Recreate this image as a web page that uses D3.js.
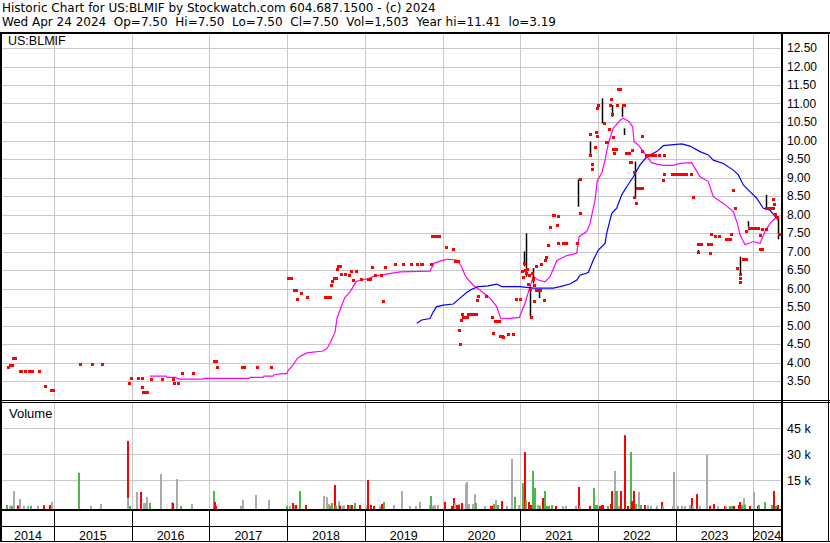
<!DOCTYPE html>
<html>
<head>
<meta charset="utf-8">
<script src="https://cdn.jsdelivr.net/npm/d3@7/dist/d3.min.js"></script>
<style>
  html, body { margin: 0; padding: 0; background: #fff; }
  svg { display: block; font-family: "Liberation Sans", Arial, sans-serif; }
  text { white-space: pre; }
</style>
</head>
<body>
<svg id="chart" width="830" height="543"></svg>
<script>
// ---------------- DATA (dates as decimal years) ----------------
const headerLine1 = "Historic Chart for US:BLMIF by Stockwatch.com 604.687.1500 - (c) 2024";
const headerLine2 = "Wed Apr 24 2024  Op=7.50  Hi=7.50  Lo=7.50  Cl=7.50  Vol=1,503  Year hi=11.41  lo=3.19";
const symbolLabel = "US:BLMIF";
const volumeLabel = "Volume";

const years = [2014, 2015, 2016, 2017, 2018, 2019, 2020, 2021, 2022, 2023, 2024];
const priceTicks = [3.5, 4, 4.5, 5, 5.5, 6, 6.5, 7, 7.5, 8, 8.5, 9, 9.5, 10, 10.5, 11, 11.5, 12, 12.5];
const volumeTicks = [15000, 30000, 45000];
const volumeTickLabels = ["15 k", "30 k", "45 k"];

// daily closes
const priceDates = [
  2014.408, 2014.440, 2014.455, 2014.472, 2014.498, 2014.562, 2014.575, 2014.623, 2014.678, 2014.713,
  2014.807, 2014.884, 2014.961, 2014.987, 2015.335, 2015.489, 2015.618, 2015.965, 2015.991, 2016.081,
  2016.132, 2016.132, 2016.145, 2016.171, 2016.197, 2016.248, 2016.390, 2016.531, 2016.544, 2016.595,
  2016.647, 2016.788, 2017.059, 2017.085, 2017.097, 2017.419, 2017.445, 2017.612, 2017.792,
  2018.011, 2018.049, 2018.088, 2018.101, 2018.114, 2018.127, 2018.178, 2018.255, 2018.487, 2018.519,
  2018.551, 2018.564, 2018.577, 2018.603, 2018.628, 2018.641, 2018.654, 2018.676, 2018.693, 2018.738,
  2018.750, 2018.796, 2018.821, 2018.847, 2018.886, 2018.950, 2019.040, 2019.053, 2019.066, 2019.092,
  2019.130, 2019.207, 2019.233, 2019.259, 2019.388, 2019.491, 2019.593, 2019.671, 2019.722, 2019.735,
  2019.851, 2019.864, 2019.877, 2019.889, 2019.915, 2019.954, 2020.044, 2020.134, 2020.160, 2020.186,
  2020.198, 2020.211, 2020.224, 2020.237, 2020.250, 2020.263, 2020.276, 2020.289, 2020.314, 2020.327,
  2020.353, 2020.378, 2020.404, 2020.430, 2020.443, 2020.455, 2020.558, 2020.636, 2020.649, 2020.674,
  2020.700, 2020.726, 2020.739, 2020.764, 2020.777, 2020.842, 2020.906, 2020.944, 2020.996, 2021.021,
  2021.034, 2021.051, 2021.060, 2021.077, 2021.086, 2021.099, 2021.112, 2021.125, 2021.134, 2021.150,
  2021.167, 2021.176, 2021.180, 2021.202, 2021.202, 2021.228, 2021.253, 2021.262, 2021.305, 2021.318,
  2021.335, 2021.352, 2021.382, 2021.425, 2021.437, 2021.472, 2021.481, 2021.485, 2021.549, 2021.592,
  2021.726, 2021.764, 2021.772, 2021.901, 2021.901, 2021.922, 2021.922, 2021.957, 2021.974, 2021.983,
  2021.987, 2022.000, 2022.073, 2022.103, 2022.116, 2022.141, 2022.154, 2022.163, 2022.183, 2022.197,
  2022.193, 2022.202, 2022.231, 2022.244, 2022.257, 2022.277, 2022.317, 2022.330, 2022.356, 2022.394,
  2022.411, 2022.424, 2022.441, 2022.459, 2022.467, 2022.488, 2022.497, 2022.530, 2022.562, 2022.566,
  2022.570, 2022.613, 2022.640, 2022.669, 2022.700, 2022.733, 2022.780, 2022.832, 2022.849, 2022.845,
  2022.948, 2022.975, 2023.003, 2023.030, 2023.055, 2023.097, 2023.128, 2023.200, 2023.226, 2023.282,
  2023.282, 2023.305, 2023.325, 2023.411, 2023.437, 2023.437, 2023.453, 2023.453, 2023.501, 2023.553,
  2023.650, 2023.672, 2023.698, 2023.711, 2023.737, 2023.762, 2023.792, 2023.830, 2023.830, 2023.830,
  2023.869, 2023.900, 2023.908, 2023.942, 2023.968, 2023.994, 2024.020, 2024.062, 2024.088, 2024.084,
  2024.115, 2024.114, 2024.157, 2024.165, 2024.191, 2024.219, 2024.247, 2024.247, 2024.268, 2024.277,
  2024.299, 2024.325
];
const priceClose = [
  3.89, 3.94, 3.94, 4.13, 4.13, 3.78, 3.78, 3.78, 3.78, 3.78,
  3.78, 3.37, 3.26, 3.26, 3.97, 3.97, 3.97, 3.45, 3.59, 3.59,
  3.59, 3.35, 3.19, 3.19, 3.19, 3.56, 3.56, 3.56, 3.45, 3.45,
  3.72, 3.72, 4.05, 4.05, 3.89, 3.89, 3.89, 3.89, 3.89,
  6.28, 6.28, 5.97, 5.97, 5.97, 5.72, 5.89, 5.78, 5.78, 5.78,
  5.78, 6.10, 6.21, 6.28, 6.28, 6.53, 6.62, 6.62, 6.39, 6.39,
  6.39, 6.37, 6.47, 6.24, 6.46, 6.26, 6.26, 6.26, 6.26, 6.58,
  6.36, 6.36, 5.67, 6.58, 6.66, 6.66, 6.66, 6.66, 6.66, 6.66,
  6.66, 7.42, 7.42, 7.42, 7.42, 7.42, 7.12, 7.07, 6.75, 6.75,
  6.75, 4.88, 4.50, 5.15, 5.32, 5.24, 5.24, 5.24, 5.24, 5.32,
  5.32, 5.32, 5.32, 5.32, 5.69, 5.80, 5.80, 5.24, 4.80, 5.13,
  5.13, 5.13, 4.72, 4.72, 4.69, 4.78, 4.78, 5.72, 5.72, 6.48,
  6.31, 6.68, 6.50, 6.41, 6.54, 6.13, 6.37, 6.00, 5.24, 6.43,
  6.26, 6.09, 5.67, 6.62, 5.96, 5.96, 5.96, 6.65, 5.69, 6.77,
  6.85, 7.18, 7.67, 7.99, 7.99, 7.72, 7.96, 7.23, 7.23, 7.23,
  7.23, 8.95, 8.04, 9.61, 10.18, 9.36, 9.24, 9.83, 10.23, 10.13,
  10.89, 10.96, 10.48, 9.97, 9.97, 10.31, 10.96, 11.12, 10.72, 10.10,
  9.77, 9.65, 9.77, 10.96, 11.39, 11.39, 10.96, 10.96, 9.67, 9.67,
  9.43, 9.43, 9.74, 9.16, 8.48, 8.32, 8.72, 8.72, 8.72, 10.13,
  9.72, 9.62, 9.62, 9.62, 9.62, 9.62, 9.62, 8.93, 9.09, 9.61,
  9.09, 9.09, 9.09, 9.09, 9.09, 9.09, 9.09, 9.09, 8.48, 6.99,
  7.20, 7.20, 7.20, 7.20, 7.20, 6.96, 7.47, 7.20, 7.43, 7.43,
  7.35, 7.35, 7.35, 7.47, 8.67, 8.18, 6.56, 6.40, 6.29, 6.18,
  6.81, 6.81, 7.56, 7.64, 7.64, 7.64, 7.64, 7.64, 7.45, 7.08,
  7.08, 7.62, 7.62, 8.17, 8.17, 8.17, 8.17, 8.41, 8.28, 8.01,
  7.94, 7.47
];

// intraday high-low ranges
const rangeDates = [2021.051, 2021.077, 2021.125, 2021.167, 2021.244, 2021.746, 2021.900, 2022.055,
  2022.176, 2022.304, 2022.338, 2022.476, 2023.282, 2023.830, 2023.933, 2024.157, 2024.311];
const rangeHigh = [7.00, 7.49, 6.05, 6.55, 5.96, 8.95, 9.97, 11.14, 10.96, 10.91, 10.33, 9.43, 7.04, 6.86, 7.82, 8.53, 7.94];
const rangeLow  = [6.60, 6.32, 5.24, 6.14, 5.74, 8.21, 9.61, 10.46, 10.64, 10.64, 10.15, 8.44, 6.95, 6.41, 7.67, 8.17, 7.33];

// short moving average (magenta)
const maShortDates = [
  2016.235, 2016.441, 2016.454, 2016.570, 2016.583, 2016.621, 2016.917, 2016.930, 2017.509, 2017.522,
  2017.689, 2017.702, 2017.818, 2017.831, 2017.934, 2017.998, 2018.011, 2018.075, 2018.127, 2018.178,
  2018.255, 2018.461, 2018.513, 2018.551, 2018.616, 2018.641, 2018.693, 2018.744, 2018.809, 2018.886,
  2018.937, 2019.040, 2019.104, 2019.195, 2019.452, 2019.838, 2019.889, 2019.967, 2020.053, 2020.182,
  2020.246, 2020.288, 2020.331, 2020.395, 2020.481, 2020.610, 2020.696, 2020.747, 2020.867, 2020.987,
  2021.060, 2021.125, 2021.167, 2021.231, 2021.318, 2021.382, 2021.468, 2021.597, 2021.726, 2021.756,
  2021.854, 2021.897, 2021.961, 2021.991, 2022.047, 2022.090, 2022.132, 2022.196, 2022.283, 2022.325,
  2022.402, 2022.446, 2022.463, 2022.518, 2022.582, 2022.690, 2022.755, 2022.840, 2022.968, 2023.055,
  2023.205, 2023.312, 2023.419, 2023.483, 2023.612, 2023.740, 2023.792, 2023.827, 2023.891, 2023.998,
  2024.084, 2024.148, 2024.212, 2024.299
];
const maShortValues = [
  3.63, 3.63, 3.60, 3.60, 3.57, 3.55, 3.55, 3.57, 3.57, 3.60,
  3.60, 3.63, 3.63, 3.67, 3.70, 3.70, 3.78, 3.93, 4.10, 4.18,
  4.26, 4.31, 4.38, 4.52, 4.82, 5.19, 5.50, 5.76, 5.91, 6.18,
  6.23, 6.26, 6.32, 6.36, 6.45, 6.47, 6.68, 6.74, 6.79, 6.77,
  6.59, 6.36, 6.23, 6.09, 5.96, 5.74, 5.51, 5.20, 5.19, 5.22,
  5.60, 6.05, 6.32, 6.23, 6.18, 6.32, 6.75, 6.89, 6.95, 7.40,
  7.54, 7.76, 8.39, 8.93, 9.11, 9.47, 9.92, 10.33, 10.55, 10.60,
  10.51, 10.37, 9.97, 9.88, 9.70, 9.40, 9.36, 9.33, 9.33, 9.38,
  9.40, 9.02, 8.89, 8.48, 8.30, 8.08, 7.76, 7.45, 7.18, 7.27,
  7.22, 7.54, 7.76, 7.94
];

// long moving average (blue)
const maLongDates = [
  2019.667, 2019.731, 2019.838, 2019.880, 2019.924, 2020.009, 2020.138, 2020.224, 2020.310, 2020.374,
  2020.459, 2020.588, 2020.696, 2020.760, 2020.996, 2021.167, 2021.425, 2021.511, 2021.639, 2021.726,
  2021.768, 2021.875, 2021.939, 2022.003, 2022.090, 2022.111, 2022.176, 2022.240, 2022.304, 2022.369,
  2022.454, 2022.540, 2022.626, 2022.755, 2022.840, 2023.076, 2023.183, 2023.312, 2023.419, 2023.483,
  2023.612, 2023.740, 2023.805, 2023.869, 2023.955, 2024.041, 2024.126, 2024.212, 2024.319
];
const maLongValues = [
  5.06, 5.15, 5.19, 5.37, 5.51, 5.55, 5.58, 5.74, 5.89, 5.98,
  6.05, 6.07, 6.12, 6.05, 6.05, 6.01, 6.01, 6.05, 6.12, 6.23,
  6.36, 6.43, 6.77, 7.04, 7.22, 7.49, 8.03, 8.17, 8.53, 8.75,
  9.02, 9.34, 9.56, 9.70, 9.86, 9.91, 9.85, 9.70, 9.61, 9.47,
  9.38, 9.20, 9.07, 8.80, 8.62, 8.44, 8.17, 8.12, 7.85
];

// volume bars (g = up day, r = down day, k = unchanged)
const volDates = [
  2014.391, 2014.438, 2014.456, 2014.481, 2014.541, 2014.559, 2014.610, 2014.662, 2014.700, 2014.790,
  2014.867, 2014.952, 2014.970, 2015.318, 2015.472, 2015.601, 2015.948, 2015.948, 2015.974, 2016.064,
  2016.116, 2016.154, 2016.171, 2016.193, 2016.231, 2016.373, 2016.514, 2016.527, 2016.579, 2016.630,
  2016.772, 2017.055, 2017.072, 2017.084, 2017.402, 2017.428, 2017.595, 2017.770,
  2017.994, 2018.037, 2018.075, 2018.097, 2018.114, 2018.165, 2018.242, 2018.474, 2018.513, 2018.538,
  2018.551, 2018.577, 2018.616, 2018.628, 2018.667, 2018.680, 2018.718, 2018.731, 2018.783, 2018.809,
  2018.834, 2018.873, 2018.937, 2019.023, 2019.040, 2019.079, 2019.117, 2019.195, 2019.220, 2019.246,
  2019.375, 2019.478, 2019.581, 2019.658, 2019.709, 2019.838, 2019.851, 2019.876, 2019.902, 2019.941,
  2020.031, 2020.121, 2020.147, 2020.160, 2020.185, 2020.211, 2020.250, 2020.301, 2020.314, 2020.340,
  2020.391, 2020.417, 2020.430, 2020.546, 2020.623, 2020.636, 2020.661, 2020.687, 2020.713, 2020.764,
  2020.829, 2020.893, 2020.932, 2020.983, 2021.034, 2021.060, 2021.073, 2021.112, 2021.137, 2021.163,
  2021.189, 2021.227, 2021.253, 2021.292, 2021.318, 2021.343, 2021.369, 2021.408, 2021.459, 2021.549,
  2021.588, 2021.717, 2021.755, 2021.768, 2021.897, 2021.948, 2021.961, 2021.987, 2022.025, 2022.051,
  2022.064, 2022.128, 2022.167, 2022.180, 2022.218, 2022.231, 2022.244, 2022.270, 2022.296, 2022.347,
  2022.386, 2022.424, 2022.437, 2022.463, 2022.488, 2022.527, 2022.553, 2022.604, 2022.643, 2022.682,
  2022.759, 2022.823, 2022.836, 2022.965, 2022.978, 2023.030, 2023.081, 2023.119, 2023.183, 2023.209,
  2023.222, 2023.273, 2023.312, 2023.402, 2023.441, 2023.492, 2023.544, 2023.634, 2023.647, 2023.698,
  2023.724, 2023.750, 2023.814, 2023.827, 2023.853, 2023.879, 2023.891, 2023.955, 2024.007, 2024.058,
  2024.071, 2024.148, 2024.238, 2024.264, 2024.290, 2024.315
];
const volValues = [
  750, 300, 300, 8800, 500, 4200, 300, 300, 300, 300,
  600, 700, 2500, 19400, 300, 1300, 37700, 4800, 200, 8300,
  8300, 1900, 1900, 5400, 1900, 18600, 2500, 1900, 15700, 200,
  1300, 8800, 2500, 200, 300, 3600, 6500, 3600,
  300, 300, 1900, 750, 750, 8800, 750, 5900, 5400, 1300,
  300, 1900, 12300, 400, 3000, 400, 400, 400, 750, 750,
  750, 1900, 750, 300, 15200, 750, 200, 300, 1300, 2500,
  750, 8800, 200, 200, 2500, 750, 5900, 300, 750, 750,
  2500, 200, 4800, 1900, 750, 1000, 1900, 12900, 14000, 1300,
  1300, 7000, 1900, 200, 200, 300, 1300, 3600, 750, 3000,
  300, 27300, 5400, 750, 13400, 31300, 3600, 2500, 750, 20400,
  10600, 750, 300, 4800, 8800, 300, 300, 750, 200, 200,
  200, 300, 11100, 200, 300, 10600, 750, 750, 200, 750,
  750, 200, 1300, 8800, 20400, 8800, 8800, 200, 8800, 41100,
  200, 31300, 3000, 8800, 1300, 8300, 750, 750, 750, 300,
  300, 2500, 200, 200, 19800, 300, 200, 200, 750, 4800,
  200, 7000, 200, 29600, 300, 1300, 200, 200, 300, 200,
  200, 200, 750, 2500, 750, 4800, 1000, 200, 8300, 200,
  750, 2500, 750, 8800, 200, 750
];
const volColors = [
  "g", "k", "g", "k", "r", "k", "k", "k", "g", "k",
  "r", "r", "k", "g", "k", "k", "r", "k", "g", "k",
  "r", "k", "k", "k", "g", "k", "k", "r", "k", "g",
  "k", "g", "r", "r", "k", "k", "k", "k",
  "g", "k", "r", "k", "r", "g", "r", "k", "k", "k",
  "g", "g", "r", "g", "k", "r", "k", "k", "r", "g",
  "r", "g", "r", "k", "r", "r", "r", "k", "r", "g",
  "k", "k", "k", "k", "k", "k", "g", "k", "k", "k",
  "r", "r", "r", "k", "r", "r", "r", "k", "k", "k",
  "k", "k", "g", "k", "r", "r", "g", "k", "g", "r",
  "k", "k", "g", "k", "g", "r", "g", "r", "r", "g",
  "g", "k", "g", "r", "g", "g", "g", "g", "r", "k",
  "k", "k", "r", "k", "r", "g", "g", "g", "r", "r",
  "r", "g", "r", "r", "k", "g", "g", "k", "r", "r",
  "r", "g", "r", "r", "g", "k", "g", "r", "k", "k",
  "k", "r", "k", "k", "k", "k", "k", "k", "k", "r",
  "k", "r", "k", "k", "r", "r", "k", "r", "k", "g",
  "g", "r", "r", "r", "g", "k", "g", "r", "k", "r",
  "g", "g", "g", "r", "g", "r"
];

// ---------------- DRAWING ----------------
const svg = d3.select("#chart");
const W = 830, H = 543;
const plotL = 2, plotR = 781;
const priceTop = 34, priceBot = 400;
const volTop = 403, volBase = 509;
const colorMap = { g: "#4cb84c", r: "#ff0000", k: "#aaaaaa" };
const gridColor = "#c8c8c8";

const x = d3.scaleLinear().domain([2014.331, 2024.354]).range([plotL, plotR]);
const y = d3.scaleLinear().domain([3.5, 12.5]).range([381, 48]);
const yv = d3.scaleLinear().domain([0, 45000]).range([506.3, 428.3]);

svg.append("rect").attr("width", W).attr("height", H).attr("fill", "#fff");

// header
const headFont = "'DejaVu Sans', Verdana, sans-serif";
svg.append("text").attr("x", 2).attr("y", 12).attr("font-size", 12).attr("font-family", headFont).text(headerLine1);
svg.append("text").attr("x", 2).attr("y", 26).attr("font-size", 12).attr("font-family", headFont).text(headerLine2);

// grid: price
const grid = svg.append("g").attr("stroke", gridColor).attr("stroke-width", 1).attr("shape-rendering", "crispEdges");
priceTicks.forEach(t => {
  grid.append("line").attr("x1", plotL).attr("x2", plotR)
    .attr("y1", Math.round(y(t)) + 0.5).attr("y2", Math.round(y(t)) + 0.5);
});
volumeTicks.forEach(t => {
  grid.append("line").attr("x1", plotL).attr("x2", plotR)
    .attr("y1", Math.round(yv(t)) + 0.5).attr("y2", Math.round(yv(t)) + 0.5);
});
years.slice(1).forEach(yr => {
  const xx = Math.round(x(yr)) + 0.5;
  grid.append("line").attr("x1", xx).attr("x2", xx).attr("y1", priceTop).attr("y2", priceBot);
  grid.append("line").attr("x1", xx).attr("x2", xx).attr("y1", volTop).attr("y2", volBase);
});

// moving averages
const lineGen = d3.line().x(d => x(d[0])).y(d => y(d[1]));
svg.append("path").datum(d3.zip(maShortDates, maShortValues))
  .attr("d", lineGen).attr("fill", "none").attr("stroke", "#ff00ff").attr("stroke-width", 1.2);
svg.append("path").datum(d3.zip(maLongDates, maLongValues))
  .attr("d", lineGen).attr("fill", "none").attr("stroke", "#0000ff").attr("stroke-width", 1.2);

// high-low ranges
svg.append("g").selectAll("line").data(d3.range(rangeDates.length)).join("line")
  .attr("x1", i => Math.round(x(rangeDates[i])) + 0.5)
  .attr("x2", i => Math.round(x(rangeDates[i])) + 0.5)
  .attr("y1", i => y(rangeHigh[i])).attr("y2", i => y(rangeLow[i]))
  .attr("stroke", "#000").attr("stroke-width", 1.5);

// closes
svg.append("g").selectAll("rect").data(d3.range(priceDates.length)).join("rect")
  .attr("x", i => Math.round(x(priceDates[i])) - 1)
  .attr("y", i => Math.round(y(priceClose[i])) - 1)
  .attr("width", 3).attr("height", 3)
  .attr("fill", "#ff0000");

// volume bars
svg.append("g").selectAll("rect").data(d3.range(volDates.length)).join("rect")
  .attr("x", i => Math.round(x(volDates[i])) - 1)
  .attr("y", i => Math.min(yv(volValues[i]), volBase - 1.5))
  .attr("width", 2)
  .attr("height", i => volBase - Math.min(yv(volValues[i]), volBase - 1.5))
  .attr("fill", i => colorMap[volColors[i]]);

// labels inside panels
svg.append("text").attr("x", 8).attr("y", 45).attr("font-size", 12.5).text(symbolLabel);
svg.append("text").attr("x", 9).attr("y", 418).attr("font-size", 13).text(volumeLabel);

// right price axis
const pAxis = d3.axisRight(y).tickValues(priceTicks).tickSize(0).tickPadding(5).tickFormat(d3.format(".2f"));
const pg = svg.append("g").attr("transform", `translate(${plotR + 1},0)`).call(pAxis);
pg.select(".domain").remove();
pg.selectAll("text").attr("font-size", 12).attr("font-family", "Liberation Sans, Arial, sans-serif").attr("fill", "#000");

const vAxis = d3.axisRight(yv).tickValues(volumeTicks).tickSize(0).tickPadding(5)
  .tickFormat((d, i) => volumeTickLabels[i]);
const vg = svg.append("g").attr("transform", `translate(${plotR + 1},0)`).call(vAxis);
vg.select(".domain").remove();
vg.selectAll("text").attr("font-size", 12.5).attr("font-family", "Liberation Sans, Arial, sans-serif").attr("fill", "#000");

// frame lines
const frame = svg.append("g").attr("stroke", "#000").attr("shape-rendering", "crispEdges");
frame.append("line").attr("x1", 0).attr("x2", W).attr("y1", 33).attr("y2", 33).attr("stroke-width", 2);
frame.append("line").attr("x1", 1).attr("x2", 1).attr("y1", 32).attr("y2", 542).attr("stroke-width", 2);
frame.append("line").attr("x1", plotR + 1).attr("x2", plotR + 1).attr("y1", 32).attr("y2", 542).attr("stroke-width", 2);
frame.append("line").attr("x1", 828.5).attr("x2", 828.5).attr("y1", 32).attr("y2", 542).attr("stroke-width", 1.5);
frame.append("line").attr("x1", 0).attr("x2", W).attr("y1", 400.5).attr("y2", 400.5).attr("stroke-width", 1);
frame.append("line").attr("x1", 0).attr("x2", W).attr("y1", 402.5).attr("y2", 402.5).attr("stroke-width", 1);
frame.append("line").attr("x1", 0).attr("x2", plotR + 1).attr("y1", 510).attr("y2", 510).attr("stroke-width", 2);
frame.append("line").attr("x1", 0).attr("x2", plotR + 1).attr("y1", 526.5).attr("y2", 526.5).attr("stroke-width", 1.5);
frame.append("line").attr("x1", 0).attr("x2", W).attr("y1", 541.5).attr("y2", 541.5).attr("stroke-width", 1.5);
years.slice(1).forEach(yr => {
  const xx = Math.round(x(yr)) + 0.5;
  frame.append("line").attr("x1", xx).attr("x2", xx).attr("y1", 510).attr("y2", 542).attr("stroke-width", 1.5);
});

// year labels
svg.append("g").selectAll("text").data(years).join("text")
  .attr("x", yr => (Math.max(plotL, x(yr)) + Math.min(plotR, x(yr + 1))) / 2)
  .attr("y", 539.5)
  .attr("text-anchor", "middle").attr("font-size", 12.5)
  .text(yr => yr);
</script>
</body>
</html>
